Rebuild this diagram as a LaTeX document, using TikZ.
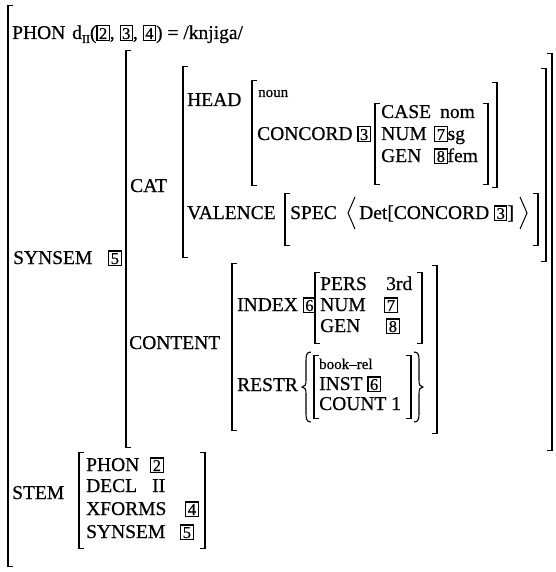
\documentclass[tikz,border=0pt]{standalone}
\usepackage{fontspec}
\setmainfont{Liberation Serif}[FakeBold=0.6]
\newcommand{\tg}[1]{{\setlength{\fboxsep}{0.9pt}\setlength{\fboxrule}{1.1pt}\fbox{\makebox[9.4pt]{\fontsize{16.5}{16.5}\selectfont\rule{0pt}{11.6pt}#1}}}}
\newcommand{\lbrk}[3]{\draw[brk] (#1,#2) -- (#1,#3); \draw[tck] (#1-0.8,#2) -- (#1+5,#2) (#1-0.8,#3) -- (#1+5,#3);}
\newcommand{\rbrk}[3]{\draw[brk] (#1,#2) -- (#1,#3); \draw[tck] (#1+0.8,#2) -- (#1-5,#2) (#1+0.8,#3) -- (#1-5,#3);}
\tikzset{
  txt/.style={anchor=base west, inner sep=0pt, font=\fontsize{19.5}{22}\selectfont},
  sml/.style={anchor=base west, inner sep=0pt, font=\fontsize{15}{18}\selectfont},
  brk/.style={line width=1.7pt},
  tck/.style={line width=0.8pt},
  ang/.style={line width=1pt, line join=miter},
  brc/.style={line width=1.1pt}
}
\begin{document}
\begin{tikzpicture}[x=1pt,y=-1pt]
\useasboundingbox[fill=white] (0,0) rectangle (555,572);
% outer
\lbrk{8}{5}{566}
\node[txt] (phon) at (12,39) {PHON};
\node[txt] (dform) at (72,39) {d\raisebox{-4pt}{\fontsize{12}{12}\selectfont II}(\tg{2}, \tg{3}, \tg{4}) = /knjiga/};
% SYNSEM
\node[txt] (synsem) at (13,264) {SYNSEM};
\node[txt] (ss5) at (108,264) {\tg{5}};
\lbrk{126}{50}{447}
\rbrk{552}{53}{450}
% CAT
\node[txt] (cat) at (130,192) {CAT};
\lbrk{183}{66}{257}
\rbrk{546}{68}{261}
% HEAD
\node[txt] (head) at (187,106) {HEAD};
\lbrk{252}{80}{185}
\rbrk{497}{82}{187}
\node[sml] (noun) at (258,97) {noun};
\node[txt] (concord) at (257,140) {CONCORD \tg{3}};
\lbrk{375}{103}{184}
\rbrk{488}{103}{184}
\node[txt] (case) at (381,118) {CASE};
\node[txt] (nom) at (440,118) {nom};
\node[txt] (num1) at (381,140) {NUM};
\node[txt] (sg) at (434,140) {\tg{7}sg};
\node[txt] (gen1) at (381,162) {GEN};
\node[txt] (fem) at (434,162) {\tg{8}fem};
% VALENCE
\node[txt] (valence) at (187,219) {VALENCE};
\lbrk{285}{193}{245}
\rbrk{538}{193}{245}
\node[txt] (spec) at (290,219) {SPEC};
\draw[ang] (355,197) -- (348,213) -- (355,229);
\node[txt] (det) at (359,219) {Det[CONCORD \tg{3}]};
\draw[ang] (520,197) -- (527,213) -- (520,229);
% CONTENT
\node[txt] (content) at (129,349) {CONTENT};
\lbrk{232}{263}{430}
\rbrk{437}{265}{433}
\node[txt] (index) at (237,311) {INDEX \tg{6}};
\lbrk{315}{272}{343}
\rbrk{422}{272}{343}
\node[txt] (pers) at (320,290) {PERS};
\node[txt] (third) at (386,290) {3rd};
\node[txt] (num2) at (320,311) {NUM};
\node[txt] (n7) at (384,311) {\tg{7}};
\node[txt] (gen2) at (320,332) {GEN};
\node[txt] (n8) at (386,332) {\tg{8}};
\node[txt] (restr) at (237,391) {RESTR};
\draw[brc] (311,352) .. controls (306,352) and (306,356) .. (306,362) -- (306,380) .. controls (306,385) and (305,387) .. (302,387) .. controls (305,387) and (306,389) .. (306,394) -- (306,412) .. controls (306,418) and (306,422) .. (311,422);
\lbrk{314}{355}{418}
\node[sml] (bookrel) at (319,369) {book–rel};
\node[txt] (inst) at (319,390) {INST \tg{6}};
\node[txt] (count) at (319,410) {COUNT 1};
\rbrk{411}{355}{418}
\draw[brc] (414,352) .. controls (419,352) and (419,356) .. (419,362) -- (419,380) .. controls (419,385) and (420,387) .. (423,387) .. controls (420,387) and (419,389) .. (419,394) -- (419,412) .. controls (419,418) and (419,422) .. (414,422);
% STEM
\node[txt] (stem) at (12,499) {STEM};
\lbrk{79}{452}{548}
\rbrk{205}{452}{548}
\node[txt] (sphon) at (86,471) {PHON};
\node[txt] (s2) at (150,471) {\tg{2}};
\node[txt] (decl) at (86,492) {DECL};
\node[txt] (ii) at (152,492) {II};
\node[txt] (xforms) at (86,515) {XFORMS};
\node[txt] (s4) at (185,515) {\tg{4}};
\node[txt] (ssyn) at (86,538) {SYNSEM};
\node[txt] (s5) at (180,538) {\tg{5}};
\end{tikzpicture}
\end{document}
